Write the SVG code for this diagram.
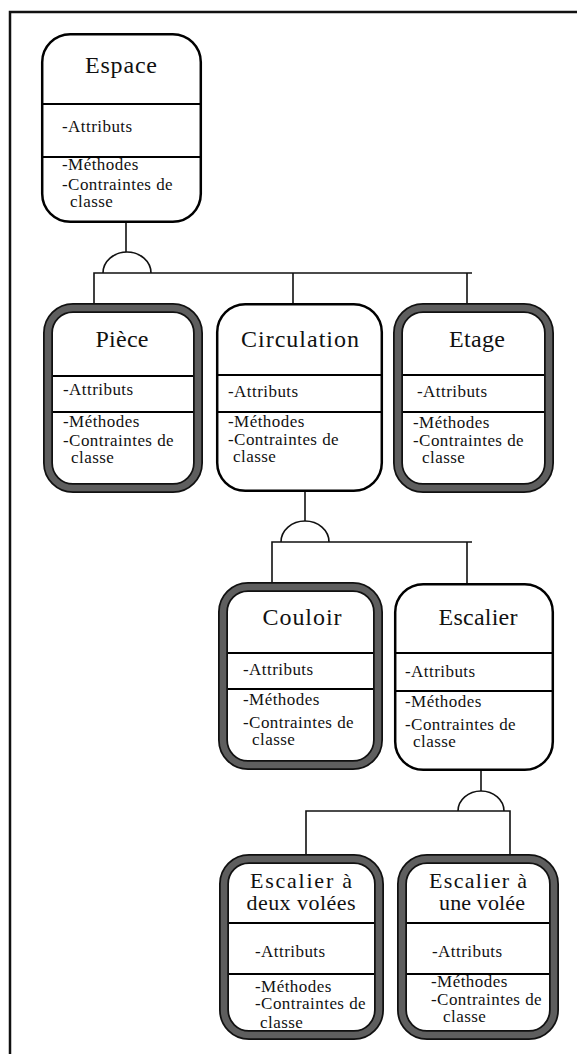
<svg xmlns="http://www.w3.org/2000/svg" width="577" height="1054" viewBox="0 0 577 1054">
<style>
.bg{fill:#fff}
.thin{fill:#fff;stroke:#000;stroke-width:2.5}
.thickO{fill:#fff;stroke:#111;stroke-width:10}
.thickI{fill:none;stroke:#5e5e5e;stroke-width:6.5}
.div{stroke:#000;stroke-width:2}
.con{fill:none;stroke:#111;stroke-width:1.6}
.frame{fill:none;stroke:#111;stroke-width:2.5}
.t{font-family:"Liberation Serif","Times New Roman",serif;font-size:24px;fill:#111;text-anchor:middle}
.t2{font-family:"Liberation Serif","Times New Roman",serif;font-size:22px;fill:#111;text-anchor:middle}
.a{font-family:"Liberation Serif","Times New Roman",serif;font-size:17px;fill:#111;letter-spacing:0.45px}
</style>
<rect class="bg" x="0" y="0" width="577" height="1054"/>
<path class="frame" d="M10,1054 V12 H577"/>
<g id="connectors">
<path class="con" d="M126,223 V252"/>
<path class="con" d="M103,273 A24,21 0 0 1 151,273"/>
<path class="con" d="M94,303 V273 H472 M293,273 V303 M467,273 V303"/>
<path class="con" d="M305,492 V521"/>
<path class="con" d="M281,542 A24,21 0 0 1 329,542"/>
<path class="con" d="M272,582 V542 H472 M467,542 V583"/>
<path class="con" d="M481,771 V791"/>
<path class="con" d="M458,811 A23,20 0 0 1 504,811"/>
<path class="con" d="M306,854 V811 H510 V854"/>
</g>
<g id="espace">
<rect class="thin" x="42.2" y="34.2" width="158.6" height="187.6" rx="28"/>
<line class="div" x1="43" y1="104" x2="200" y2="104"/>
<line class="div" x1="43" y1="157" x2="200" y2="157"/>
<text class="t" x="121" y="73" textLength="72" lengthAdjust="spacing">Espace</text>
<text class="a" x="62" y="132">-Attributs</text>
<text class="a" x="62" y="170">-Méthodes</text>
<text class="a" x="62" y="190">-Contraintes de</text>
<text class="a" x="70" y="207">classe</text>
</g>
<g id="piece">
<rect class="thickO" x="48" y="308" width="150" height="180" rx="25"/>
<rect class="thickI" x="48" y="308" width="150" height="180" rx="25"/>
<line class="div" x1="53" y1="376" x2="193" y2="376"/>
<line class="div" x1="53" y1="412" x2="193" y2="412"/>
<text class="t" x="122" y="347" textLength="53" lengthAdjust="spacing">Pièce</text>
<text class="a" x="63" y="395">-Attributs</text>
<text class="a" x="63" y="427">-Méthodes</text>
<text class="a" x="63" y="446">-Contraintes de</text>
<text class="a" x="71" y="463">classe</text>
</g>
<g id="circulation">
<rect class="thin" x="217.2" y="304.2" width="164.6" height="186.6" rx="28"/>
<line class="div" x1="218" y1="375" x2="381" y2="375"/>
<line class="div" x1="218" y1="412" x2="381" y2="412"/>
<text class="t" x="300" y="347" textLength="118" lengthAdjust="spacing">Circulation</text>
<text class="a" x="228" y="397">-Attributs</text>
<text class="a" x="228" y="427">-Méthodes</text>
<text class="a" x="228" y="445">-Contraintes de</text>
<text class="a" x="233" y="462">classe</text>
</g>
<g id="etage">
<rect class="thickO" x="398" y="308" width="151" height="180" rx="25"/>
<rect class="thickI" x="398" y="308" width="151" height="180" rx="25"/>
<line class="div" x1="403" y1="375" x2="544" y2="375"/>
<line class="div" x1="403" y1="412" x2="544" y2="412"/>
<text class="t" x="477" y="347" textLength="56" lengthAdjust="spacing">Etage</text>
<text class="a" x="417" y="397">-Attributs</text>
<text class="a" x="413" y="428">-Méthodes</text>
<text class="a" x="413" y="446">-Contraintes de</text>
<text class="a" x="422" y="463">classe</text>
</g>
<g id="couloir">
<rect class="thickO" x="223" y="587" width="155" height="178" rx="25"/>
<rect class="thickI" x="223" y="587" width="155" height="178" rx="25"/>
<line class="div" x1="228" y1="653" x2="373" y2="653"/>
<line class="div" x1="228" y1="689" x2="373" y2="689"/>
<text class="t" x="302" y="625" textLength="79" lengthAdjust="spacing">Couloir</text>
<text class="a" x="243" y="675">-Attributs</text>
<text class="a" x="243" y="705">-Méthodes</text>
<text class="a" x="243" y="728">-Contraintes de</text>
<text class="a" x="252" y="745">classe</text>
</g>
<g id="escalier">
<rect class="thin" x="395.2" y="584.2" width="157.6" height="185.6" rx="28"/>
<line class="div" x1="396" y1="653" x2="552" y2="653"/>
<line class="div" x1="396" y1="691" x2="552" y2="691"/>
<text class="t" x="478" y="625" textLength="79" lengthAdjust="spacing">Escalier</text>
<text class="a" x="405" y="677">-Attributs</text>
<text class="a" x="405" y="707">-Méthodes</text>
<text class="a" x="405" y="730">-Contraintes de</text>
<text class="a" x="413" y="747">classe</text>
</g>
<g id="escalier-deux-volees">
<rect class="thickO" x="224" y="859" width="155" height="176" rx="25"/>
<rect class="thickI" x="224" y="859" width="155" height="176" rx="25"/>
<line class="div" x1="229" y1="923" x2="374" y2="923"/>
<line class="div" x1="229" y1="974" x2="374" y2="974"/>
<text class="t2" x="301" y="888" textLength="102" lengthAdjust="spacing">Escalier à</text>
<text class="t2" x="301" y="910" textLength="109" lengthAdjust="spacing">deux volées</text>
<text class="a" x="255" y="957">-Attributs</text>
<text class="a" x="255" y="992">-Méthodes</text>
<text class="a" x="255" y="1009">-Contraintes de</text>
<text class="a" x="260" y="1028">classe</text>
</g>
<g id="escalier-une-volee">
<rect class="thickO" x="402" y="859" width="152" height="176" rx="25"/>
<rect class="thickI" x="402" y="859" width="152" height="176" rx="25"/>
<line class="div" x1="407" y1="923" x2="549" y2="923"/>
<line class="div" x1="407" y1="974" x2="549" y2="974"/>
<text class="t2" x="478" y="888" textLength="98" lengthAdjust="spacing">Escalier à</text>
<text class="t2" x="482" y="910" textLength="86" lengthAdjust="spacing">une volée</text>
<text class="a" x="432" y="957">-Attributs</text>
<text class="a" x="431" y="987">-Méthodes</text>
<text class="a" x="431" y="1005">-Contraintes de</text>
<text class="a" x="443" y="1022">classe</text>
</g>
</svg>
